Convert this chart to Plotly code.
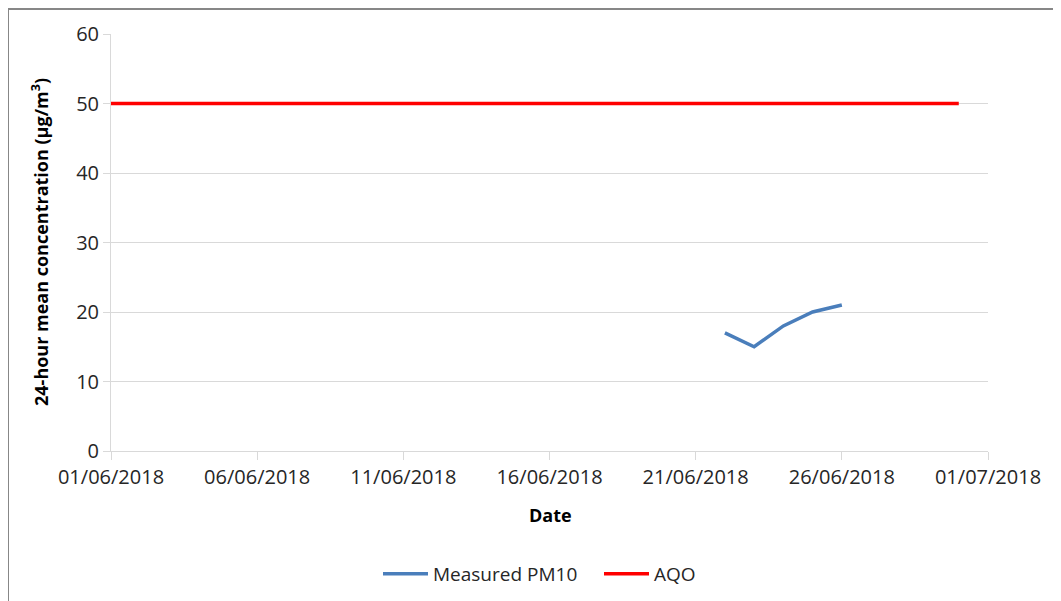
import plotly.graph_objects as go

# Data
pm10_dates = ["2018-06-22", "2018-06-23", "2018-06-24", "2018-06-25", "2018-06-26"]
pm10_values = [17, 15, 18, 20, 21]
aqo_dates = ["2018-06-01", "2018-06-30"]
aqo_values = [50, 50]
tick_dates = ["2018-06-01", "2018-06-06", "2018-06-11", "2018-06-16",
              "2018-06-21", "2018-06-26", "2018-07-01"]
tick_labels = ["01/06/2018", "06/06/2018", "11/06/2018", "16/06/2018",
               "21/06/2018", "26/06/2018", "01/07/2018"]

FONT = "Open Sans"
OFF = 8  # page body margin
W, H = 1061 - OFF, 601 - OFF
ML, MT = 111 - OFF, 34 - OFF
PW, PH = 877, 417
MR, MB = W - ML - PW, H - MT - PH

def px(x):  # screen x -> paper
    return (x - OFF - ML) / PW

def py(y):  # screen y -> paper
    return (MT + PH - (y - OFF)) / PH

fig = go.Figure()
fig.add_trace(go.Scatter(x=pm10_dates, y=pm10_values, mode="lines",
                         name="Measured PM10",
                         line=dict(color="#4A7EBB", width=3.5)))
fig.add_trace(go.Scatter(x=aqo_dates, y=aqo_values, mode="lines",
                         name="AQO",
                         line=dict(color="#FF0000", width=3.5)))

fig.update_layout(
    width=W, height=H,
    margin=dict(l=ML, r=MR, t=MT, b=MB, autoexpand=False),
    paper_bgcolor="white", plot_bgcolor="white",
    font=dict(family=FONT, size=20, color="#262626"),
    showlegend=True,
    legend=dict(orientation="h", x=px(378), xanchor="left",
                y=py(574), yanchor="middle",
                font=dict(family=FONT, size=19, color="#262626"),
                itemwidth=45, tracegroupgap=0,
                entrywidth=161, entrywidthmode="pixels"),
    xaxis=dict(type="date", range=["2018-06-01", "2018-07-01"],
               tickvals=tick_dates, ticktext=tick_labels,
               showgrid=False, zeroline=False,
               showline=True, linecolor="#D9D9D9", linewidth=1,
               ticks="outside", ticklen=8, tickcolor="#D9D9D9",
               tickfont=dict(family=FONT, size=20, color="#262626")),
    yaxis=dict(range=[0, 60], dtick=10, tick0=0,
               showgrid=True, gridcolor="#D9D9D9", gridwidth=1,
               zeroline=False,
               showline=True, linecolor="#D9D9D9", linewidth=1,
               ticks="outside", ticklen=7, tickcolor="#D9D9D9",
               tickfont=dict(family=FONT, size=20, color="#262626")),
)

fig.add_annotation(text="<b>Date</b>", xref="paper", yref="paper",
                   x=px(550), y=py(515), xanchor="center", yanchor="middle",
                   showarrow=False, font=dict(family=FONT, size=18, color="#000000"))
fig.add_annotation(text="<b>24-hour mean concentration (µg/m<sup>3</sup>)</b>",
                   xref="paper", yref="paper", x=px(40), y=py(242),
                   xanchor="center", yanchor="middle", textangle=-90,
                   showarrow=False, font=dict(family=FONT, size=18, color="#000000"))

# outer chart frame
fig.add_shape(type="path", xref="paper", yref="paper",
              path=f"M {px(8)} {py(620)} L {px(8)} {py(9)} L {px(1080)} {py(9)}",
              line=dict(color="#878787", width=2))

fig.write_html("out.html")
